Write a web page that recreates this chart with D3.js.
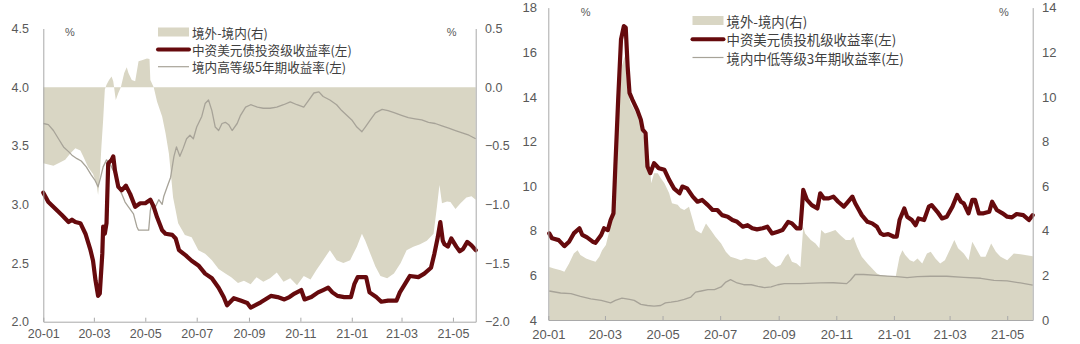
<!DOCTYPE html>
<html>
<head>
<meta charset="utf-8">
<script src="https://cdn.jsdelivr.net/npm/d3@7"></script>
<style>
  html, body { margin: 0; padding: 0; background: #ffffff; }
  svg { display: block; }
</style>
</head>
<body>
<svg id="chart" width="1080" height="344"></svg>
<script>
// ---- Tick labels and legend text ----
const monthTicks = ["2020-01-01","2020-03-01","2020-05-01","2020-07-01","2020-09-01","2020-11-01","2021-01-01","2021-03-01","2021-05-01"];
const leftAxisTicksA = [2.0, 2.5, 3.0, 3.5, 4.0, 4.5];
const rightAxisTicksA = [-2.0, -1.5, -1.0, -0.5, 0.0, 0.5];
const leftAxisTicksB = [4, 6, 8, 10, 12, 14, 16, 18];
const rightAxisTicksB = [0, 2, 4, 6, 8, 10, 12, 14];
const legendA = ["境外-境内(右)", "中资美元债投资级收益率(左)", "境内高等级5年期收益率(左)"];
const legendB = ["境外-境内(右)", "中资美元债投机级收益率(左)", "境内中低等级3年期收益率(左)"];

// ---- Investment grade panel: yields (%) and offshore-onshore spread (%) ----
const igUsdYield = [
  ["2020-01-01",3.10],["2020-01-07",3.02],["2020-01-15",2.965],["2020-01-23",2.91],["2020-01-31",2.85],
  ["2020-02-04",2.87],["2020-02-08",2.85],["2020-02-14",2.84],["2020-02-20",2.75],["2020-02-26",2.61],
  ["2020-02-29",2.52],["2020-03-03",2.35],["2020-03-06",2.22],["2020-03-08",2.24],["2020-03-11",2.58],
  ["2020-03-12",2.81],["2020-03-14",2.75],["2020-03-16",2.84],["2020-03-18",3.35],["2020-03-22",3.38],
  ["2020-03-24",3.41],["2020-03-26",3.29],["2020-03-30",3.15],["2020-04-03",3.12],["2020-04-08",3.16],
  ["2020-04-13",3.09],["2020-04-19",2.98],["2020-04-25",3.01],["2020-05-01",3.01],["2020-05-07",3.04],
  ["2020-05-11",2.98],["2020-05-15",2.89],["2020-05-21",2.78],["2020-05-25",2.75],["2020-06-02",2.74],
  ["2020-06-06",2.71],["2020-06-10",2.61],["2020-06-18",2.565],["2020-06-25",2.52],["2020-07-03",2.48],
  ["2020-07-11",2.41],["2020-07-19",2.37],["2020-07-27",2.29],["2020-08-02",2.21],["2020-08-06",2.14],
  ["2020-08-14",2.20],["2020-08-22",2.18],["2020-08-30",2.16],["2020-09-03",2.12],["2020-09-15",2.165],
  ["2020-09-27",2.22],["2020-10-05",2.21],["2020-10-13",2.19],["2020-10-19",2.21],["2020-10-25",2.24],
  ["2020-11-02",2.27],["2020-11-06",2.19],["2020-11-14",2.21],["2020-11-22",2.25],["2020-11-28",2.27],
  ["2020-12-04",2.29],["2020-12-09",2.25],["2020-12-15",2.22],["2020-12-23",2.21],["2020-12-31",2.21],
  ["2021-01-04",2.32],["2021-01-08",2.38],["2021-01-18",2.38],["2021-01-22",2.25],["2021-01-30",2.21],
  ["2021-02-05",2.17],["2021-02-13",2.18],["2021-02-23",2.18],["2021-02-27",2.25],["2021-03-05",2.32],
  ["2021-03-11",2.39],["2021-03-21",2.38],["2021-03-28",2.41],["2021-04-05",2.46],["2021-04-09",2.58],
  ["2021-04-13",2.72],["2021-04-16",2.85],["2021-04-19",2.69],["2021-04-21",2.66],["2021-04-25",2.64],
  ["2021-04-29",2.71],["2021-05-05",2.64],["2021-05-09",2.60],["2021-05-13",2.62],["2021-05-18",2.68],
  ["2021-05-23",2.65],["2021-05-28",2.61]
];
const highGrade5y = [
  ["2020-01-01",3.69],["2020-01-07",3.68],["2020-01-13",3.63],["2020-01-19",3.56],["2020-01-25",3.49],
  ["2020-01-31",3.45],["2020-02-04",3.42],["2020-02-10",3.39],["2020-02-15",3.37],["2020-02-21",3.32],
  ["2020-02-27",3.25],["2020-03-02",3.21],["2020-03-06",3.15],["2020-03-09",3.23],["2020-03-12",3.32],
  ["2020-03-16",3.38],["2020-03-20",3.35],["2020-03-26",3.26],["2020-03-30",3.15],["2020-04-03",3.09],
  ["2020-04-07",3.02],["2020-04-11",2.98],["2020-04-17",2.92],["2020-04-21",2.81],["2020-04-23",2.78],
  ["2020-05-05",2.78],["2020-05-07",2.95],["2020-05-09",3.01],["2020-05-13",2.98],["2020-05-17",3.04],
  ["2020-05-21",3.00],["2020-05-23",3.07],["2020-05-27",3.15],["2020-05-31",3.23],["2020-06-04",3.41],
  ["2020-06-07",3.49],["2020-06-11",3.41],["2020-06-15",3.48],["2020-06-19",3.56],["2020-06-23",3.59],
  ["2020-06-27",3.56],["2020-07-01",3.66],["2020-07-07",3.75],["2020-07-11",3.86],["2020-07-15",3.89],
  ["2020-07-19",3.80],["2020-07-23",3.66],["2020-07-27",3.63],["2020-07-31",3.69],["2020-08-04",3.70],
  ["2020-08-08",3.68],["2020-08-12",3.63],["2020-08-18",3.69],["2020-08-22",3.76],["2020-08-28",3.83],
  ["2020-09-03",3.85],["2020-09-11",3.83],["2020-09-18",3.82],["2020-09-26",3.82],["2020-10-04",3.83],
  ["2020-10-12",3.85],["2020-10-20",3.875],["2020-10-28",3.85],["2020-11-05",3.83],["2020-11-11",3.89],
  ["2020-11-17",3.95],["2020-11-23",3.96],["2020-11-28",3.92],["2020-12-06",3.89],["2020-12-14",3.85],
  ["2020-12-20",3.80],["2020-12-26",3.76],["2021-01-01",3.72],["2021-01-07",3.66],["2021-01-13",3.62],
  ["2021-01-17",3.66],["2021-01-23",3.72],["2021-01-29",3.78],["2021-02-06",3.81],["2021-02-13",3.80],
  ["2021-02-21",3.78],["2021-03-01",3.76],["2021-03-09",3.74],["2021-03-17",3.73],["2021-03-25",3.72],
  ["2021-04-02",3.70],["2021-04-10",3.69],["2021-04-18",3.67],["2021-04-26",3.65],["2021-05-04",3.63],
  ["2021-05-12",3.61],["2021-05-20",3.59],["2021-05-28",3.56]
];
const igSpread = [
  ["2020-01-01",-0.65],["2020-01-07",-0.66],["2020-01-13",-0.67],["2020-01-19",-0.65],["2020-01-27",-0.62],
  ["2020-02-02",-0.565],["2020-02-08",-0.52],["2020-02-14",-0.54],["2020-02-18",-0.60],["2020-02-23",-0.68],
  ["2020-02-29",-0.74],["2020-03-04",-0.82],["2020-03-06",-0.92],["2020-03-08",-0.76],["2020-03-10",-0.50],
  ["2020-03-12",-0.28],["2020-03-14",-0.02],["2020-03-16",0.02],["2020-03-19",0.06],["2020-03-22",0.09],
  ["2020-03-24",0.05],["2020-03-27",-0.11],["2020-03-30",-0.05],["2020-04-02",0.0],["2020-04-06",0.12],
  ["2020-04-09",0.17],["2020-04-11",0.12],["2020-04-15",0.06],["2020-04-19",0.05],["2020-04-23",0.22],
  ["2020-04-27",0.23],["2020-05-03",0.245],["2020-05-06",0.24],["2020-05-07",0.06],["2020-05-11",0.0],
  ["2020-05-15",-0.125],["2020-05-21",-0.25],["2020-05-25",-0.39],["2020-05-29",-0.565],["2020-06-01",-0.79],
  ["2020-06-03",-0.94],["2020-06-06",-1.05],["2020-06-09",-1.16],["2020-06-17",-1.26],["2020-06-25",-1.28],
  ["2020-07-03",-1.39],["2020-07-11",-1.42],["2020-07-19",-1.475],["2020-07-27",-1.55],["2020-08-04",-1.59],
  ["2020-08-11",-1.62],["2020-08-19",-1.67],["2020-08-26",-1.65],["2020-09-03",-1.68],["2020-09-10",-1.62],
  ["2020-09-18",-1.66],["2020-09-26",-1.63],["2020-10-04",-1.58],["2020-10-12",-1.66],["2020-10-20",-1.63],
  ["2020-10-28",-1.69],["2020-11-05",-1.61],["2020-11-13",-1.64],["2020-11-20",-1.56],["2020-11-28",-1.475],
  ["2020-12-06",-1.39],["2020-12-14",-1.475],["2020-12-22",-1.50],["2020-12-30",-1.475],["2021-01-07",-1.36],
  ["2021-01-13",-1.25],["2021-01-17",-1.31],["2021-01-23",-1.42],["2021-01-29",-1.53],["2021-02-04",-1.61],
  ["2021-02-12",-1.63],["2021-02-20",-1.59],["2021-02-28",-1.50],["2021-03-07",-1.39],["2021-03-15",-1.36],
  ["2021-03-23",-1.34],["2021-03-31",-1.31],["2021-04-08",-1.25],["2021-04-12",-1.02],["2021-04-15",-0.835],
  ["2021-04-18",-0.99],["2021-04-24",-0.975],["2021-04-28",-0.98],["2021-05-04",-1.04],["2021-05-10",-0.99],
  ["2021-05-17",-0.94],["2021-05-23",-0.93],["2021-05-28",-0.96]
];

// ---- High yield panel: yields (%) and offshore-onshore spread (%) ----
const hyUsdYield = [
  ["2020-01-02",7.88],["2020-01-05",7.66],["2020-01-12",7.58],["2020-01-18",7.31],["2020-01-23",7.51],
  ["2020-01-28",7.88],["2020-02-03",8.11],["2020-02-06",7.81],["2020-02-11",7.70],["2020-02-17",7.51],
  ["2020-02-20",7.46],["2020-02-26",7.81],["2020-02-29",8.11],["2020-03-04",8.03],["2020-03-07",8.48],
  ["2020-03-10",8.78],["2020-03-12",10.88],["2020-03-15",13.88],["2020-03-18",16.57],["2020-03-21",17.17],
  ["2020-03-23",17.10],["2020-03-25",15.37],["2020-03-27",14.18],["2020-03-30",13.88],["2020-04-04",13.43],
  ["2020-04-08",12.98],["2020-04-10",12.53],["2020-04-13",12.38],["2020-04-15",10.88],["2020-04-18",10.58],
  ["2020-04-22",11.03],["2020-04-27",10.80],["2020-05-03",10.73],["2020-05-08",10.28],["2020-05-13",9.90],
  ["2020-05-19",9.68],["2020-05-22",9.98],["2020-05-27",9.90],["2020-06-02",9.53],["2020-06-07",9.30],
  ["2020-06-12",9.38],["2020-06-18",9.15],["2020-06-23",8.93],["2020-06-28",8.93],["2020-07-03",8.70],
  ["2020-07-09",8.63],["2020-07-14",8.48],["2020-07-19",8.40],["2020-07-25",8.18],["2020-07-30",8.25],
  ["2020-08-04",8.11],["2020-08-09",8.06],["2020-08-15",8.11],["2020-08-20",8.18],["2020-08-25",7.88],
  ["2020-08-31",7.96],["2020-09-05",8.03],["2020-09-11",8.40],["2020-09-15",8.33],["2020-09-20",8.11],
  ["2020-09-24",8.11],["2020-09-26",9.23],["2020-09-27",9.83],["2020-10-01",9.38],["2020-10-06",9.15],
  ["2020-10-12",9.00],["2020-10-15",9.68],["2020-10-19",9.45],["2020-10-24",9.45],["2020-10-29",9.53],
  ["2020-11-03",9.30],["2020-11-09",9.08],["2020-11-12",9.23],["2020-11-18",9.53],["2020-11-21",9.23],
  ["2020-11-25",8.93],["2020-11-28",8.70],["2020-12-04",8.40],["2020-12-09",8.33],["2020-12-14",8.18],
  ["2020-12-18",7.88],["2020-12-21",7.81],["2020-12-26",7.85],["2021-01-01",7.73],["2021-01-04",7.73],
  ["2021-01-07",8.48],["2021-01-12",9.00],["2021-01-15",8.63],["2021-01-20",8.48],["2021-01-24",8.25],
  ["2021-01-27",8.55],["2021-02-02",8.48],["2021-02-07",9.08],["2021-02-10",9.15],["2021-02-16",8.85],
  ["2021-02-21",8.55],["2021-02-26",8.63],["2021-03-04",9.08],["2021-03-09",9.60],["2021-03-13",9.30],
  ["2021-03-16",9.23],["2021-03-21",8.78],["2021-03-25",9.38],["2021-03-28",9.38],["2021-04-01",8.78],
  ["2021-04-06",8.78],["2021-04-12",8.85],["2021-04-15",9.30],["2021-04-20",8.93],["2021-04-26",8.78],
  ["2021-05-01",8.63],["2021-05-06",8.60],["2021-05-11",8.75],["2021-05-18",8.70],["2021-05-24",8.48],
  ["2021-05-28",8.70]
];
const midLowGrade3y = [
  ["2020-01-02",5.30],["2020-01-14",5.21],["2020-01-25",5.18],["2020-02-04",5.06],["2020-02-15",4.95],
  ["2020-02-26",4.88],["2020-03-07",4.77],["2020-03-12",4.88],["2020-03-19",4.98],["2020-03-27",4.92],
  ["2020-04-01",4.88],["2020-04-08",4.70],["2020-04-15",4.65],["2020-04-22",4.62],["2020-04-29",4.65],
  ["2020-05-04",4.77],["2020-05-10",4.80],["2020-05-17",4.85],["2020-05-24",4.92],["2020-05-31",5.03],
  ["2020-06-05",5.25],["2020-06-11",5.30],["2020-06-18",5.36],["2020-06-25",5.36],["2020-07-02",5.48],
  ["2020-07-07",5.70],["2020-07-12",5.81],["2020-07-19",5.66],["2020-07-26",5.58],["2020-08-03",5.58],
  ["2020-08-10",5.51],["2020-08-17",5.45],["2020-08-24",5.48],["2020-08-31",5.58],["2020-09-07",5.63],
  ["2020-09-24",5.63],["2020-10-15",5.66],["2020-10-29",5.67],["2020-11-12",5.63],["2020-11-16",5.78],
  ["2020-11-21",6.04],["2020-11-30",6.04],["2020-12-14",6.00],["2020-12-25",5.97],["2021-01-04",5.94],
  ["2021-01-15",5.90],["2021-01-26",5.94],["2021-02-09",5.96],["2021-02-26",5.96],["2021-03-16",5.91],
  ["2021-04-03",5.87],["2021-04-17",5.78],["2021-05-01",5.75],["2021-05-15",5.66],["2021-05-28",5.56]
];
const hySpread = [
  ["2020-01-02",2.38],["2020-01-07",2.31],["2020-01-14",2.23],["2020-01-18",2.16],["2020-01-23",2.53],
  ["2020-01-28",2.98],["2020-02-01",3.13],["2020-02-04",2.91],["2020-02-10",2.76],["2020-02-15",2.68],
  ["2020-02-20",2.61],["2020-02-24",2.83],["2020-02-27",3.13],["2020-03-02",3.36],["2020-03-05",3.88],
  ["2020-03-09",4.78],["2020-03-12",6.88],["2020-03-16",9.43],["2020-03-19",11.38],["2020-03-22",11.83],
  ["2020-03-25",10.33],["2020-03-28",9.73],["2020-04-01",9.43],["2020-04-06",8.98],["2020-04-10",8.38],
  ["2020-04-13",7.93],["2020-04-17",7.18],["2020-04-19",6.13],["2020-04-22",6.58],["2020-04-26",6.58],
  ["2020-04-29",6.36],["2020-05-03",6.13],["2020-05-08",5.68],["2020-05-11",5.23],["2020-05-17",5.16],
  ["2020-05-20",5.01],["2020-05-24",4.93],["2020-05-29",5.08],["2020-06-02",4.48],["2020-06-05",4.03],
  ["2020-06-11",3.88],["2020-06-16",4.33],["2020-06-21",4.03],["2020-06-26",3.73],["2020-07-02",3.43],
  ["2020-07-07",3.06],["2020-07-12",2.83],["2020-07-18",2.76],["2020-07-23",2.68],["2020-07-28",2.76],
  ["2020-08-03",2.71],["2020-08-08",2.68],["2020-08-13",2.76],["2020-08-18",2.83],["2020-08-24",2.53],
  ["2020-08-29",2.38],["2020-09-03",2.46],["2020-09-08",2.83],["2020-09-11",2.98],["2020-09-15",2.61],
  ["2020-09-20",2.53],["2020-09-24",2.38],["2020-09-27",4.18],["2020-09-29",3.88],["2020-10-05",3.58],
  ["2020-10-10",3.43],["2020-10-14",3.21],["2020-10-16",4.03],["2020-10-20",3.88],["2020-10-26",3.96],
  ["2020-10-31",4.03],["2020-11-05",3.81],["2020-11-11",3.58],["2020-11-16",3.58],["2020-11-19",3.73],
  ["2020-11-23",3.28],["2020-11-28",2.83],["2020-12-04",2.53],["2020-12-09",2.31],["2020-12-14",2.08],
  ["2020-12-18",2.01],["2020-12-28",1.96],["2021-01-03",1.96],["2021-01-07",2.83],["2021-01-10",3.13],
  ["2021-01-13",2.91],["2021-01-18",2.68],["2021-01-22",2.61],["2021-01-26",2.76],["2021-01-31",2.53],
  ["2021-02-05",2.98],["2021-02-09",3.06],["2021-02-14",2.76],["2021-02-19",2.53],["2021-02-24",2.68],
  ["2021-03-02",3.21],["2021-03-06",3.58],["2021-03-10",3.21],["2021-03-16",2.98],["2021-03-21",2.68],
  ["2021-03-25",3.51],["2021-03-28",3.28],["2021-04-03",2.83],["2021-04-08",2.83],["2021-04-14",3.43],
  ["2021-04-19",3.06],["2021-04-24",2.83],["2021-05-01",2.68],["2021-05-08",2.98],["2021-05-15",2.95],
  ["2021-05-28",2.86]
];

// ---- Drawing ----
const parseDate = d3.timeParse("%Y-%m-%d");
const toPoints = arr => arr.map(([d, v]) => ({ date: parseDate(d), value: v }));
const svg = d3.select("#chart");

const COLORS = {
  spread: "#d9d6c4",
  usdLine: "#660a0d",
  cnyLine: "#a7a398",
  axis: "#a9a9a9",
  text: "#595959",
  legendText: "#404040"
};

function drawPanel(cfg) {
  const x = d3.scaleTime()
    .domain([parseDate("2020-01-01"), parseDate("2021-05-28")])
    .range([cfg.left, cfg.right]);
  const yL = d3.scaleLinear().domain(cfg.leftDomain).range([cfg.bottom, cfg.top]);
  const yR = d3.scaleLinear().domain(cfg.rightDomain).range([cfg.bottom, cfg.top]);

  const g = svg.append("g");

  // spread area between zero and the spread value, on the right axis
  g.append("path")
    .datum(toPoints(cfg.spread))
    .attr("fill", COLORS.spread)
    .attr("d", d3.area()
      .x(d => x(d.date))
      .y0(yR(0))
      .y1(d => yR(d.value)));

  // onshore yield, thin grey line
  g.append("path")
    .datum(toPoints(cfg.onshore))
    .attr("fill", "none")
    .attr("stroke", COLORS.cnyLine)
    .attr("stroke-width", 1.3)
    .attr("stroke-linejoin", "round")
    .attr("d", d3.line().x(d => x(d.date)).y(d => yL(d.value)));

  // offshore USD bond yield, thick maroon line
  g.append("path")
    .datum(toPoints(cfg.offshore))
    .attr("fill", "none")
    .attr("stroke", COLORS.usdLine)
    .attr("stroke-width", 4.2)
    .attr("stroke-linejoin", "round")
    .attr("stroke-linecap", "round")
    .attr("d", d3.line().x(d => x(d.date)).y(d => yL(d.value)));

  const fmt = cfg.fmt;

  // left axis
  const axL = g.append("g")
    .attr("transform", `translate(${cfg.left},0)`)
    .call(d3.axisLeft(yL).tickValues(cfg.leftTicks).tickFormat(fmt)
      .tickSize(0).tickPadding(cfg.padL));
  // right axis
  const axR = g.append("g")
    .attr("transform", `translate(${cfg.right},0)`)
    .call(d3.axisRight(yR).tickValues(cfg.rightTicks).tickFormat(fmt)
      .tickSize(0).tickPadding(cfg.padR));
  // bottom axis
  const axB = g.append("g")
    .attr("transform", `translate(0,${cfg.bottom})`)
    .call(d3.axisBottom(x).tickValues(monthTicks.map(parseDate))
      .tickFormat(d3.timeFormat("%y-%m"))
      .tickSizeInner(-4).tickSizeOuter(0).tickPadding(cfg.padB));

  [axL, axR, axB].forEach(ax => {
    ax.select(".domain").attr("stroke", COLORS.axis).attr("stroke-width", 1);
    ax.selectAll(".tick line").attr("stroke", COLORS.axis);
    ax.selectAll("text")
      .attr("fill", COLORS.text)
      .style("font-family", "'Liberation Sans', Arial, sans-serif")
      .style("font-size", cfg.tickFont + "px");
  });

  // unit labels
  [[cfg.pctL, cfg.pctY], [cfg.pctR, cfg.pctY]].forEach(([px, py]) => {
    g.append("text")
      .attr("x", px).attr("y", py)
      .attr("text-anchor", "middle")
      .attr("dominant-baseline", "central")
      .attr("fill", COLORS.text)
      .style("font-family", "'Liberation Sans', Arial, sans-serif")
      .style("font-size", "11px")
      .text("%");
  });

  // legend
  const lg = g.append("g");
  cfg.legend.forEach((label, i) => {
    const cy = cfg.legendY[i];
    const sx = cfg.legendX;
    if (i === 0) {
      lg.append("rect").attr("x", sx).attr("y", cy - 4.5)
        .attr("width", 31).attr("height", 9).attr("fill", COLORS.spread);
    } else if (i === 1) {
      lg.append("line").attr("x1", sx).attr("x2", sx + 31).attr("y1", cy).attr("y2", cy)
        .attr("stroke", COLORS.usdLine).attr("stroke-width", 4).attr("stroke-linecap", "round");
    } else {
      lg.append("line").attr("x1", sx).attr("x2", sx + 31).attr("y1", cy).attr("y2", cy)
        .attr("stroke", COLORS.cnyLine).attr("stroke-width", 1.2);
    }
    lg.append("text")
      .attr("x", sx + 34).attr("y", cy)
      .attr("dominant-baseline", "central")
      .attr("fill", COLORS.legendText)
      .style("font-family", "'Noto Sans CJK SC', 'Noto Sans', sans-serif")
      .style("font-size", cfg.legendFont + "px")
      .text(label);
  });
}

drawPanel({
  left: 43.3, right: 475.7, top: 28.5, bottom: 321.7,
  leftDomain: [2.0, 4.5], rightDomain: [-2.0, 0.5],
  leftTicks: leftAxisTicksA, rightTicks: rightAxisTicksA,
  fmt: d3.format(".1f"),
  spread: igSpread, onshore: highGrade5y, offshore: igUsdYield,
  padL: 14.3, padR: 9.3, padB: 7.5, tickFont: 12.5,
  pctL: 70, pctR: 451.7, pctY: 31.7,
  legend: legendA, legendX: 158, legendY: [32, 49.5, 66.7], legendFont: 12.6
});

drawPanel({
  left: 548.3, right: 1032.7, top: 7.6, bottom: 320,
  leftDomain: [4, 18], rightDomain: [0, 14],
  leftTicks: leftAxisTicksB, rightTicks: rightAxisTicksB,
  fmt: d3.format("d"),
  spread: hySpread, onshore: midLowGrade3y, offshore: hyUsdYield,
  padL: 11.3, padR: 9.3, padB: 9.5, tickFont: 13,
  pctL: 585.7, pctR: 1004, pctY: 11.7,
  legend: legendB, legendX: 692.5, legendY: [20.5, 39.3, 57.5], legendFont: 13.4
});
</script>
</body>
</html>
